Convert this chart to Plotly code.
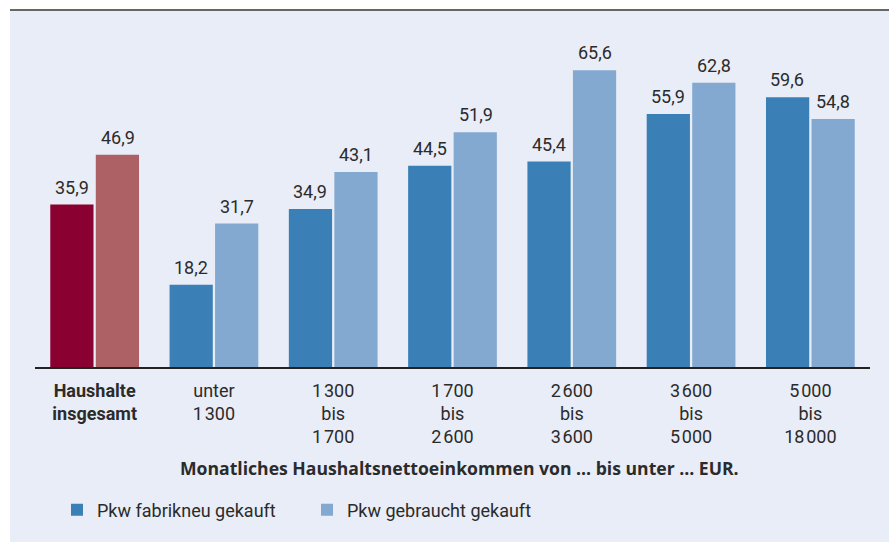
import plotly.graph_objects as go

categories = ["Haushalte insgesamt", "unter 1300", "1300 bis 1700", "1700 bis 2600",
              "2600 bis 3600", "3600 bis 5000", "5000 bis 18000"]
T = "\u200a"
tick_labels = ["<b>Haushalte</b><br><b>insgesamt</b>", f"unter<br>1{T}300",
               f"1{T}300<br>bis<br>1{T}700", f"1{T}700<br>bis<br>2{T}600",
               f"2{T}600<br>bis<br>3{T}600", f"3{T}600<br>bis<br>5{T}000",
               f"5{T}000<br>bis<br>18{T}000"]
neu_values = [35.9, 18.2, 34.9, 44.5, 45.4, 55.9, 59.6]
gebraucht_values = [46.9, 31.7, 43.1, 51.9, 65.6, 62.8, 54.8]

series_names = ["Pkw fabrikneu gekauft", "Pkw gebraucht gekauft"]
axis_title = "Monatliches Haushaltsnettoeinkommen von … bis unter … EUR."

FONT = "Roboto"
TXT = "#2b2b2b"
BG = "#e9edf7"

fig = go.Figure()

def add(x, y, color, name, group, show):
    fig.add_trace(go.Bar(
        x=x, y=y, name=name, offsetgroup=group, legendgroup=group,
        showlegend=show, marker=dict(color=color, line=dict(width=0)),
        hoverinfo="skip"))

add(categories[:1], neu_values[:1], "#8a0030", series_names[0], "a", False)
add(categories[1:], neu_values[1:], "#3a80b6", series_names[0], "a", True)
add(categories[:1], gebraucht_values[:1], "#ad6165", series_names[1], "b", False)
add(categories[1:], gebraucht_values[1:], "#84a9d0", series_names[1], "b", True)

# value labels
for cat, v1, v2 in zip(categories, neu_values, gebraucht_values):
    for v, dx in ((v1, -23), (v2, 23)):
        fig.add_annotation(x=cat, y=v, text=f"{v:.1f}".replace(".", ","),
                           xshift=dx, yshift=5, yanchor="bottom", showarrow=False,
                           font=dict(family=FONT, size=18, color=TXT))

fig.add_annotation(text="<b>" + axis_title + "</b>", xref="paper", yref="paper",
                   x=(459 - 35) / 835, y=(367 - 468) / 357, xanchor="center",
                   yanchor="middle", showarrow=False,
                   font=dict(family="Open Sans", size=17.6, color=TXT))

# white strips and top rule
fig.add_shape(type="rect", xref="paper", yref="paper", x0=-0.1, x1=1.1,
              y0=1.0, y1=1.05, fillcolor="white", line=dict(width=0), layer="below")
fig.add_shape(type="rect", xref="paper", yref="paper", x0=-0.05, x1=(10 - 35) / 835,
              y0=-0.6, y1=1.05, fillcolor="white", line=dict(width=0), layer="below")
fig.add_shape(type="line", xref="paper", yref="paper", x0=(10 - 35) / 835, x1=1.03,
              y0=1.0, y1=1.0, line=dict(color="#666666", width=2))

fig.update_layout(
    width=889, height=542,
    margin=dict(l=35, r=19, t=10, b=175),
    paper_bgcolor=BG, plot_bgcolor=BG,
    separators=", ",
    barmode="group", bargap=0.237, bargroupgap=0.05,
    font=dict(family=FONT, size=18, color=TXT),
    xaxis=dict(type="category", categoryorder="array", categoryarray=categories,
               tickvals=categories, ticktext=tick_labels, range=[-0.5, 6.5],
               showline=True, linecolor="#222222", linewidth=2, ticks="outside",
               ticklen=6, tickcolor="rgba(0,0,0,0)", showgrid=False,
               tickfont=dict(family=FONT, size=18, color=TXT)),
    yaxis=dict(range=[0, 78.9], visible=False, showgrid=False, zeroline=False),
    legend=dict(orientation="h", x=(57 - 35) / 835, xanchor="left",
                y=(367 - 510) / 357, yanchor="middle", entrywidth=205,
                font=dict(family=FONT, size=18, color=TXT), bgcolor="rgba(0,0,0,0)",
                traceorder="normal"),
)

fig.write_html("out.html", config={"displayModeBar": False},
               post_script="document.body.style.margin='0px';")
